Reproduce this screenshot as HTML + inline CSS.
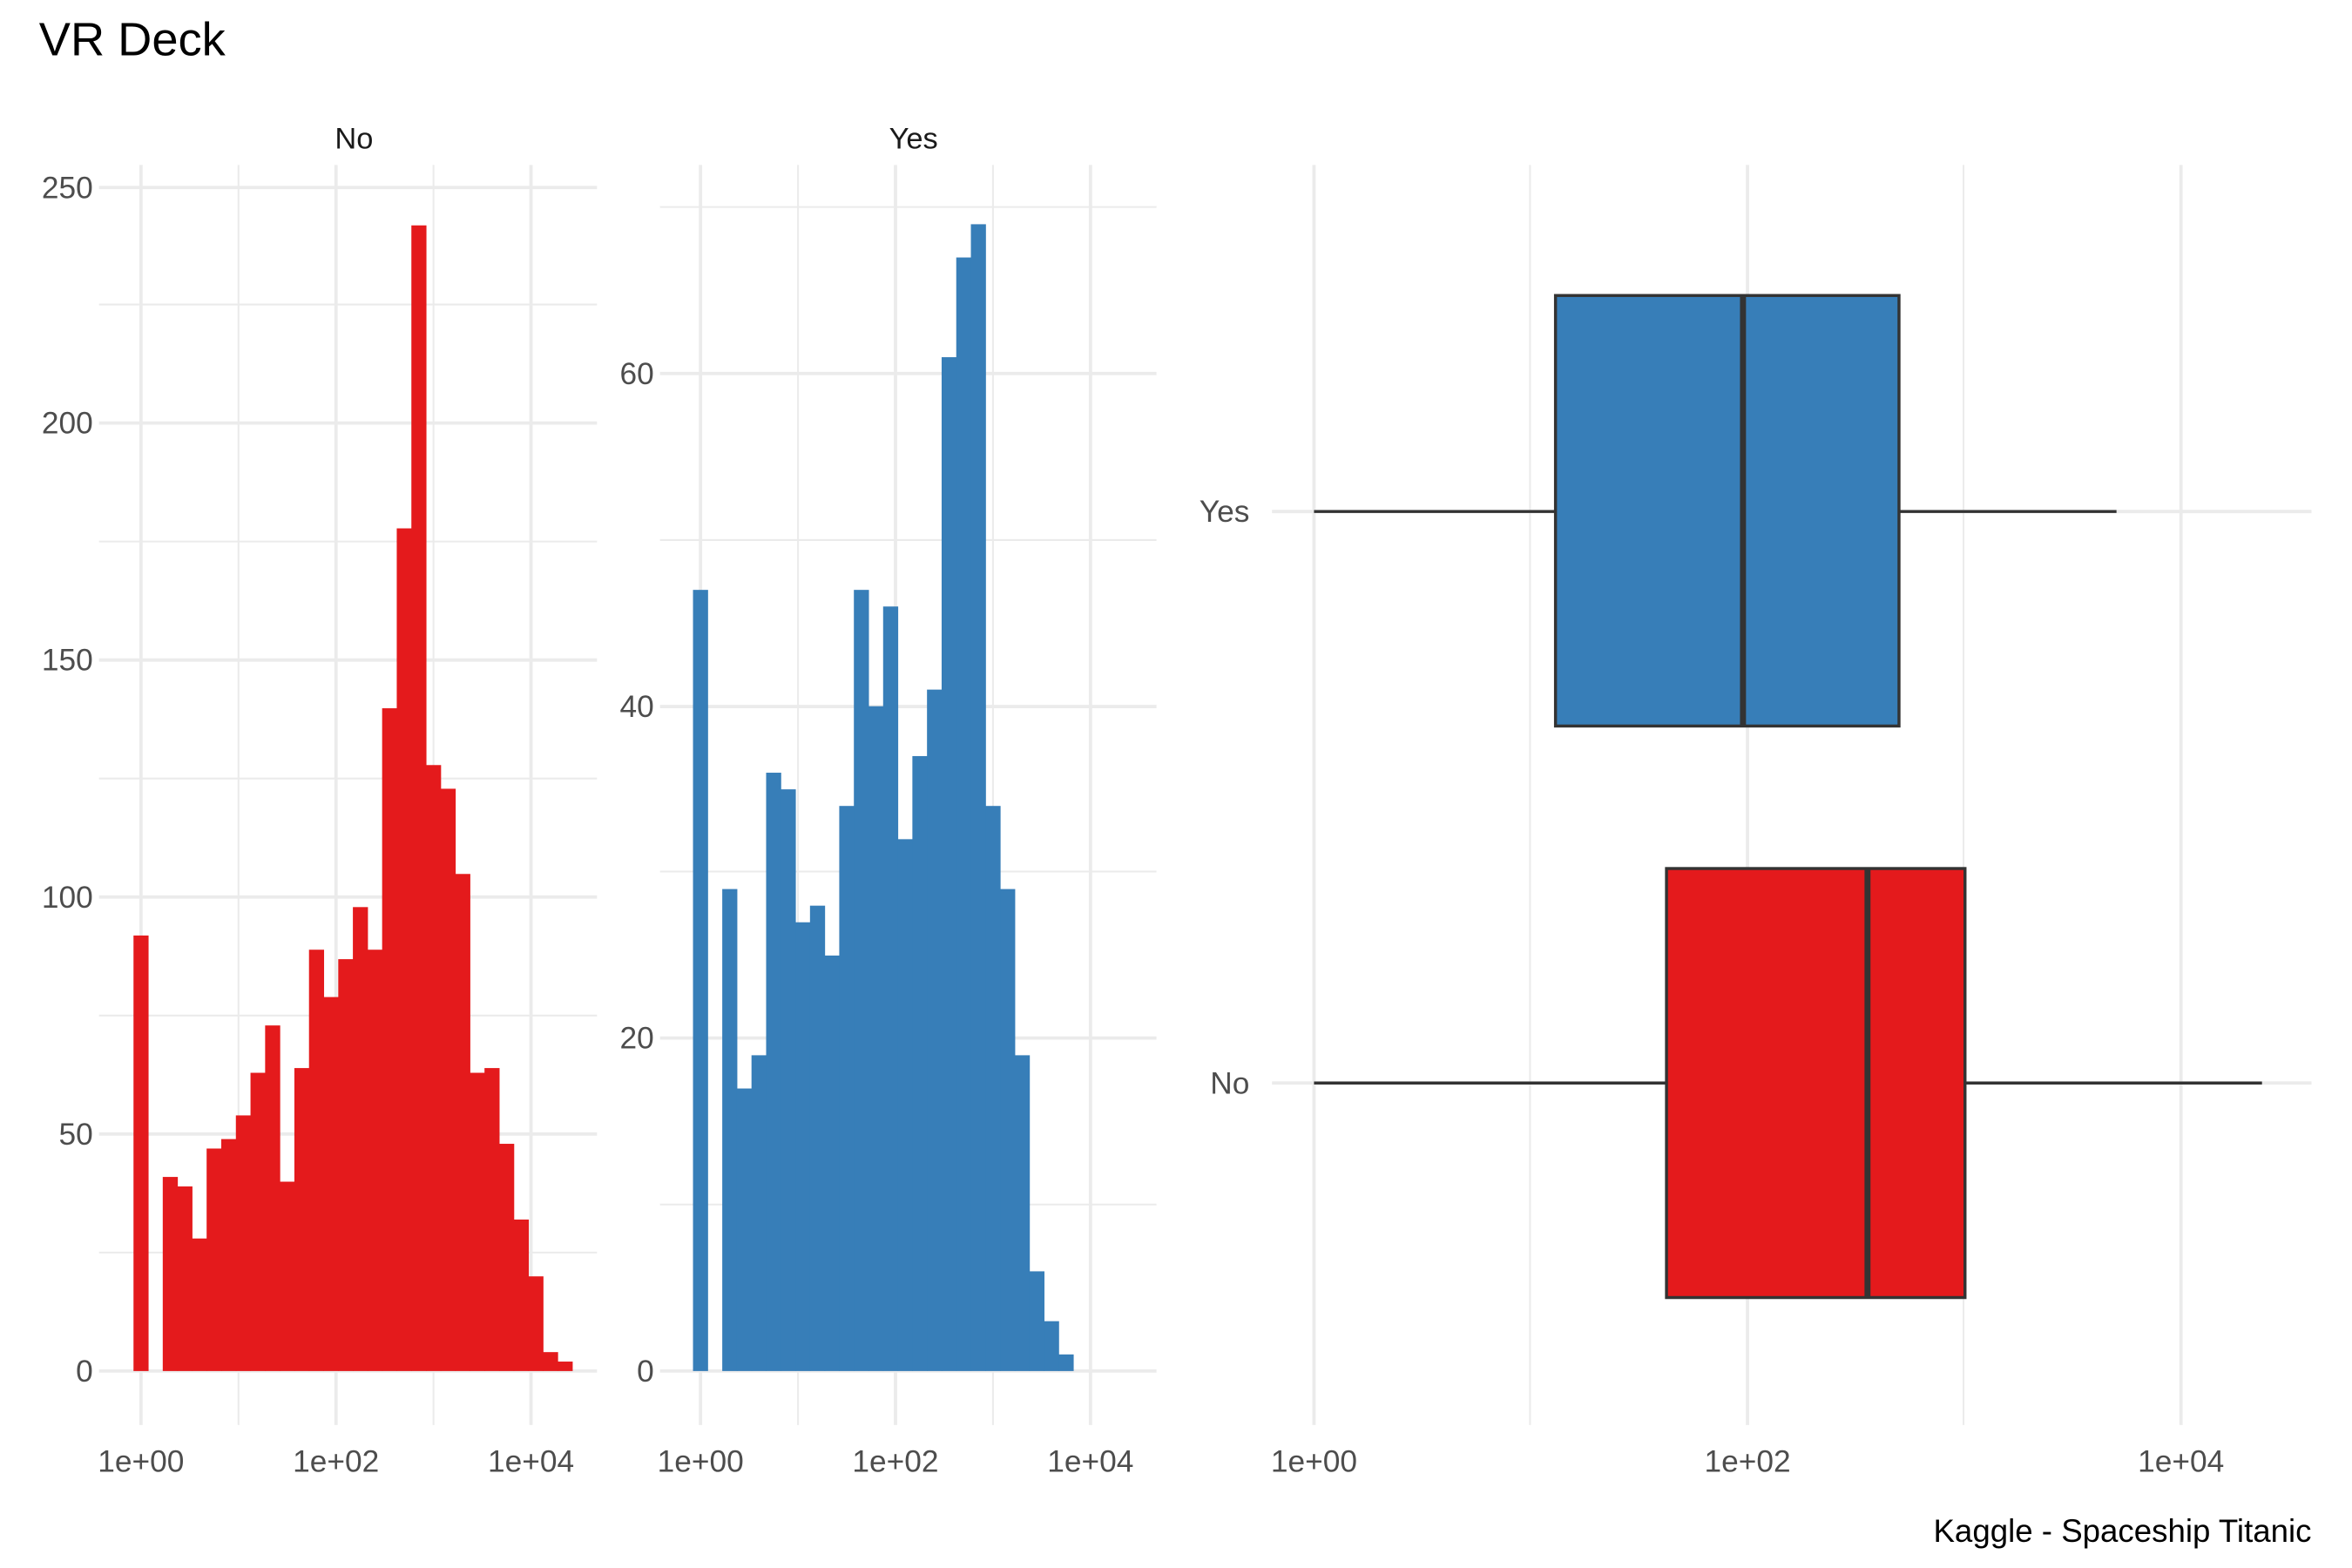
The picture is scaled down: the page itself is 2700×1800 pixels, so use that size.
<!DOCTYPE html>
<html><head><meta charset="utf-8"><style>
html,body{margin:0;padding:0;background:#fff;}
svg{display:block;}
text{font-family:"Liberation Sans",Arial,sans-serif;}
</style></head><body>
<svg width="2700" height="1800" viewBox="0 0 1568 1045.3" preserveAspectRatio="none" xmlns="http://www.w3.org/2000/svg">
<rect width="1568" height="1046" fill="#fff"/>
<text x="26" y="37" font-size="31.5" fill="#000">VR Deck</text>
<g stroke="#ebebeb" stroke-width="1.2">
<line x1="66" x2="398" y1="835" y2="835"/><line x1="66" x2="398" y1="677" y2="677"/><line x1="66" x2="398" y1="519" y2="519"/><line x1="66" x2="398" y1="361" y2="361"/><line x1="66" x2="398" y1="203" y2="203"/>
<line x1="159" x2="159" y1="110" y2="950"/><line x1="289" x2="289" y1="110" y2="950"/>
</g>
<g stroke="#ebebeb" stroke-width="2.2">
<line x1="66" x2="398" y1="914" y2="914"/><line x1="66" x2="398" y1="756" y2="756"/><line x1="66" x2="398" y1="598" y2="598"/><line x1="66" x2="398" y1="440" y2="440"/><line x1="66" x2="398" y1="282" y2="282"/><line x1="66" x2="398" y1="125" y2="125"/>
<line x1="94" x2="94" y1="110" y2="950"/><line x1="224" x2="224" y1="110" y2="950"/><line x1="354" x2="354" y1="110" y2="950"/>
</g>
<g stroke="#ebebeb" stroke-width="1.2">
<line x1="440" x2="771" y1="803" y2="803"/><line x1="440" x2="771" y1="581" y2="581"/><line x1="440" x2="771" y1="360" y2="360"/><line x1="440" x2="771" y1="138" y2="138"/>
<line x1="532" x2="532" y1="110" y2="950"/><line x1="662" x2="662" y1="110" y2="950"/>
</g>
<g stroke="#ebebeb" stroke-width="2.2">
<line x1="440" x2="771" y1="914" y2="914"/><line x1="440" x2="771" y1="692" y2="692"/><line x1="440" x2="771" y1="471" y2="471"/><line x1="440" x2="771" y1="249" y2="249"/>
<line x1="467" x2="467" y1="110" y2="950"/><line x1="597" x2="597" y1="110" y2="950"/><line x1="727" x2="727" y1="110" y2="950"/>
</g>
<g stroke="#ebebeb" stroke-width="1.2">
<line x1="1020" x2="1020" y1="110" y2="950"/><line x1="1309" x2="1309" y1="110" y2="950"/>
</g>
<g stroke="#ebebeb" stroke-width="2.2">
<line x1="876" x2="876" y1="110" y2="950"/><line x1="1165" x2="1165" y1="110" y2="950"/><line x1="1454" x2="1454" y1="110" y2="950"/>
<line x1="848" x2="1541" y1="341" y2="341"/><line x1="848" x2="1541" y1="722" y2="722"/>
</g>
<g fill="#E41A1C" id="b1"></g>
<g fill="#377EB8" id="b2"></g>
<script>
(function(){
var ns="http://www.w3.org/2000/svg";
function bars(id,start,w,vals,y0,s){var g=document.getElementById(id);
vals.forEach(function(v,i){if(!v)return;var h=v*s;var r=document.createElementNS(ns,"rect");
r.setAttribute("x",(start+i*w).toFixed(2));r.setAttribute("width",(w+0.3).toFixed(2));
r.setAttribute("y",(y0-h).toFixed(2));r.setAttribute("height",h.toFixed(2));g.appendChild(r);});}
bars("b1",89,9.75,[92,0,41,39,28,47,49,54,63,73,40,64,89,79,87,98,89,140,178,242,128,123,105,63,64,48,32,20,4,2],914,3.156);
bars("b2",462,9.75,[47,0,29,17,19,36,35,27,28,25,34,47,40,46,32,37,41,61,67,69,34,29,19,6,3,1],914,11.08);
})();
</script>
<g stroke="#333" stroke-width="2">
<line x1="876" x2="1037" y1="341" y2="341"/><line x1="1266" x2="1411" y1="341" y2="341"/>
<rect x="1037" y="197" width="229" height="287" fill="#377EB8"/>
<line x1="1162" x2="1162" y1="197" y2="484" stroke-width="4"/>
<line x1="876" x2="1111" y1="722" y2="722"/><line x1="1310" x2="1508" y1="722" y2="722"/>
<rect x="1111" y="579" width="199" height="286" fill="#E41A1C"/>
<line x1="1245" x2="1245" y1="579" y2="865" stroke-width="4"/>
</g>
<g font-size="20" fill="#1a1a1a" text-anchor="middle">
<text x="236" y="99">No</text><text x="609" y="99">Yes</text>
</g>
<g font-size="20.5" fill="#4d4d4d" text-anchor="end">
<text x="62" y="921">0</text><text x="62" y="763">50</text><text x="62" y="605">100</text><text x="62" y="447">150</text><text x="62" y="289">200</text><text x="62" y="132">250</text>
<text x="436" y="921">0</text><text x="436" y="699">20</text><text x="436" y="478">40</text><text x="436" y="256">60</text>
<text x="833" y="348">Yes</text><text x="833" y="729">No</text>
</g>
<g font-size="20.5" fill="#4d4d4d" text-anchor="middle">
<text x="94" y="981">1e+00</text><text x="224" y="981">1e+02</text><text x="354" y="981">1e+04</text>
<text x="467" y="981">1e+00</text><text x="597" y="981">1e+02</text><text x="727" y="981">1e+04</text>
<text x="876" y="981">1e+00</text><text x="1165" y="981">1e+02</text><text x="1454" y="981">1e+04</text>
</g>
<text x="1541" y="1028" font-size="21.3" fill="#000" text-anchor="end">Kaggle - Spaceship Titanic</text>
</svg>
</body></html>
